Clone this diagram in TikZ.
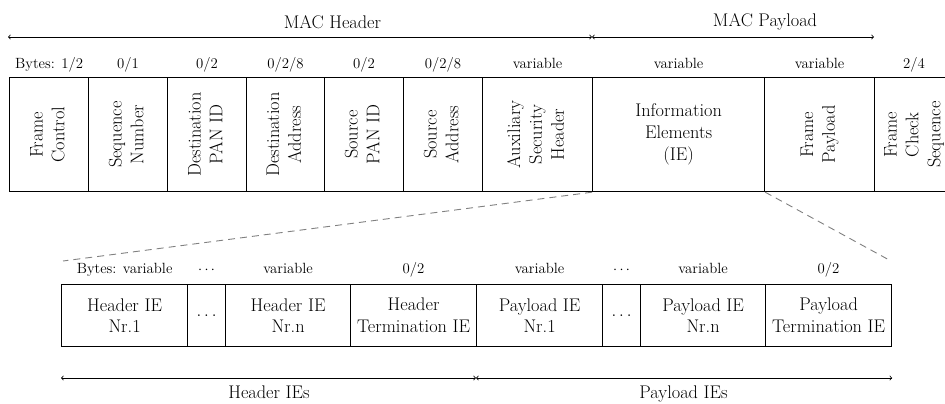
\documentclass[tikz,border=0pt]{standalone}
\usepackage{fontspec}
\usepackage{graphicx}

% text sizes used in the frame layout
\newcommand\bigfont{\fontsize{18.3}{21.8}\selectfont}
\newcommand\smallfont{\fontsize{14.8}{17}\selectfont}
% field name set bottom-to-top, one word group per line
\newcommand\vtext[1]{\rotatebox{90}{\begin{tabular}{@{}c@{}}#1\end{tabular}}}

\tikzset{
  field/.style={draw, line width=1.2pt, inner sep=0pt, minimum height=114pt,
                anchor=north west, font=\bigfont},
  ifield/.style={field, align=center},
  iefield/.style={draw, line width=1.2pt, inner sep=0pt, minimum height=62pt,
                  anchor=north west, font=\bigfont, align=center},
  bytes/.style={font=\smallfont, anchor=base, inner sep=0pt},
  extent/.style={<->, line width=0.8pt},
  spanlabel/.style={font=\bigfont, anchor=base, inner sep=0pt},
  zoomline/.style={gray, dash pattern=on 7pt off 5pt, line width=0.9pt}
}

\begin{document}
\begin{tikzpicture}[x=1pt,y=-1pt]
\useasboundingbox (0,0) rectangle (945,404);

% ---- MAC frame ----
\node[field, minimum width=79pt]  (fc)   at (9,77)   {\vtext{Frame\\Control}};
\node[field, minimum width=79pt]  (sn)   at (88,77)  {\vtext{Sequence\\Number}};
\node[field, minimum width=79pt]  (dpan) at (167,77) {\vtext{Destination\\PAN ID}};
\node[field, minimum width=78pt]  (dadr) at (246,77) {\vtext{Destination\\Address}};
\node[field, minimum width=79pt]  (spanid) at (324,77) {\vtext{Source\\PAN ID}};
\node[field, minimum width=79pt]  (sadr) at (403,77) {\vtext{Source\\Address}};
\node[field, minimum width=110pt] (aux)  at (482,77) {\vtext{Auxiliary\\Security\\Header}};
\node[ifield, minimum width=172pt] (ie)  at (592,77) {Information\\Elements\\(IE)};
\node[field, minimum width=110pt] (fp)   at (764,77) {\vtext{Frame\\Payload}};
\node[field, minimum width=79pt]  (fcs)  at (874,77) {\vtext{Frame\\Check\\Sequence}};

% field sizes in bytes
\node[bytes] (bfc)   at (fc.north   |- 0,68) {Bytes: 1/2};
\node[bytes] (bsn)   at (sn.north   |- 0,68) {0/1};
\node[bytes] (bdpan) at (dpan.north |- 0,68) {0/2};
\node[bytes] (bdadr) at (dadr.north |- 0,68) {0/2/8};
\node[bytes] (bspan) at (spanid.north |- 0,68) {0/2};
\node[bytes] (bsadr) at (sadr.north |- 0,68) {0/2/8};
\node[bytes] (baux)  at (aux.north  |- 0,68) {variable};
\node[bytes] (bie)   at (ie.north   |- 0,68) {variable};
\node[bytes] (bfp)   at (fp.north   |- 0,68) {variable};
\node[bytes] (bfcs)  at (fcs.north  |- 0,68) {2/4};

% header / payload extents
\coordinate (hl) at (8,37);
\coordinate (hm) at (ie.west |- 0,37);
\coordinate (hr) at (fcs.west |- 0,37);
\draw[extent] (hl) -- (hm);
\draw[extent] (hm) -- (hr);
\node[spanlabel] (machdr) at (332.5,29)  {MAC Header};
\node[spanlabel] (macpl)  at (765,26.5) {MAC Payload};

% ---- Information elements ----
\node[iefield, minimum width=126pt] (hie1)  at (61,284)  {Header IE\\Nr.1};
\node[iefield, minimum width=38pt]  (hdots) at (187,284) {$\ldots$};
\node[iefield, minimum width=125pt] (hien)  at (225,284) {Header IE\\Nr.n};
\node[iefield, minimum width=126pt] (hterm) at (350,284) {Header\\Termination IE};
\node[iefield, minimum width=126pt] (pie1)  at (476,284) {Payload IE\\Nr.1};
\node[iefield, minimum width=38pt]  (pdots) at (602,284) {$\ldots$};
\node[iefield, minimum width=125pt] (pien)  at (640,284) {Payload IE\\Nr.n};
\node[iefield, minimum width=126pt] (pterm) at (765,284) {Payload\\Termination IE};

\node[bytes] (bhie1)  at (hie1.north  |- 0,273) {Bytes: variable};
\node[bytes] (bhdots) at (hdots.north |- 0,273) {$\cdots$};
\node[bytes] (bhien)  at (hien.north  |- 0,273) {variable};
\node[bytes] (bhterm) at (hterm.north |- 0,273) {0/2};
\node[bytes] (bpie1)  at (pie1.north  |- 0,273) {variable};
\node[bytes] (bpdots) at (pdots.north |- 0,273) {$\cdots$};
\node[bytes] (bpien)  at (pien.north  |- 0,273) {variable};
\node[bytes] (bpterm) at (pterm.north |- 0,273) {0/2};

\coordinate (il) at (hie1.west |- 0,378);
\coordinate (im) at (pie1.west |- 0,378);
\coordinate (ir) at (pterm.east |- 0,378);
\draw[extent] (il) -- (im);
\draw[extent] (im) -- (ir);
\node[spanlabel] (hies) at (269,398) {Header IEs};
\node[spanlabel] (pies) at (683.5,398) {Payload IEs};

% zoom from the IE field to its expansion
\coordinate (zl) at (63,261);
\coordinate (zr) at (891,261);
\draw[zoomline] (ie.south west) -- (zl);
\draw[zoomline] (ie.south east) -- (zr);
\end{tikzpicture}
\end{document}
